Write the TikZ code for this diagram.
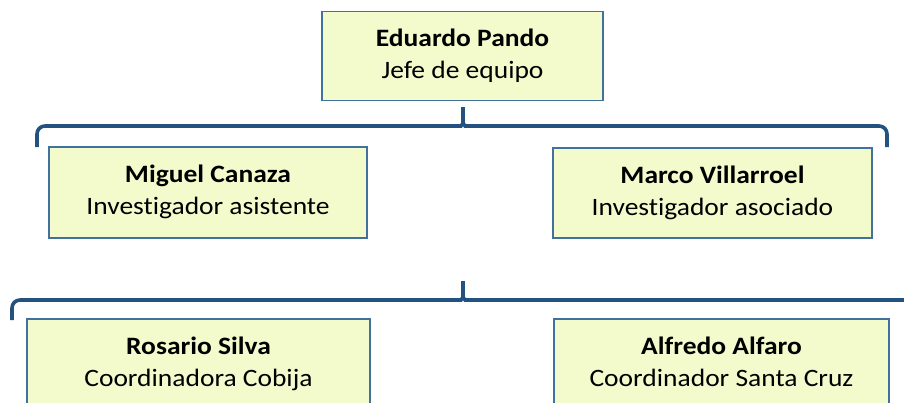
\documentclass[tikz,border=0pt]{standalone}
\usepackage{fontspec}
\setmainfont{Carlito}[FakeStretch=1.1, Ligatures=NoCommon]
\usetikzlibrary{positioning}
\definecolor{boxfill}{HTML}{F3FBCD}
\definecolor{boxline}{HTML}{41719C}
\definecolor{bracecol}{HTML}{245280}
\newcommand{\persona}[2]{\textbf{#1}\strut\\#2\strut}
\tikzset{
  person/.style={draw=boxline, line width=1.2pt, fill=boxfill, align=center, inner sep=0pt,
    minimum height=91pt, font=\fontsize{25}{32}\selectfont},
  brace/.style={draw=bracecol, line width=3.6pt, rounded corners=8pt},
}

\begin{document}
\begin{tikzpicture}[x=1pt, y=-1pt]
  \useasboundingbox (0,0) rectangle (904,402);
  \clip (0,0) rectangle (904,402);

  \node[person, minimum width=281pt, minimum height=89pt] (jefe) at (462.5,56) {\persona{Eduardo Pando}{Jefe de equipo}};
  \node[person, minimum width=318pt] (canaza) at (208,192.5) {\persona{Miguel Canaza}{Investigador asistente}};
  \node[person, minimum width=319pt, minimum height=90pt] (villarroel) at (712.5,193) {\persona{Marco Villarroel}{Investigador asociado}};
  \node[person, minimum width=343pt] (silva) at (198.5,364.5) {\persona{Rosario Silva}{Coordinadora Cobija}};
  \node[person, minimum width=335pt] (alfaro) at (721.5,364.5) {\persona{Alfredo Alfaro}{Coordinador Santa Cruz}};

  % first brace, under the team leader
  \coordinate (b1l) at (37,147);
  \coordinate (b1t) at (463,105);
  \coordinate (b1r) at (887,147);
  \draw[brace] (b1l) |- (453,126) .. controls (461,126) and (463,123) .. (463,115) -- (b1t)
    -- (463,115) .. controls (463,123) and (465,126) .. (473,126) -| (b1r);

  % second brace, above the coordinators
  \coordinate (b2l) at (12,320);
  \coordinate (b2t) at (463,279);
  \coordinate (b2r) at (925,320);
  \draw[brace] (b2l) |- (453,300) .. controls (461,300) and (463,297) .. (463,289) -- (b2t)
    -- (463,289) .. controls (463,297) and (465,300) .. (473,300) -| (b2r);
\end{tikzpicture}
\end{document}
